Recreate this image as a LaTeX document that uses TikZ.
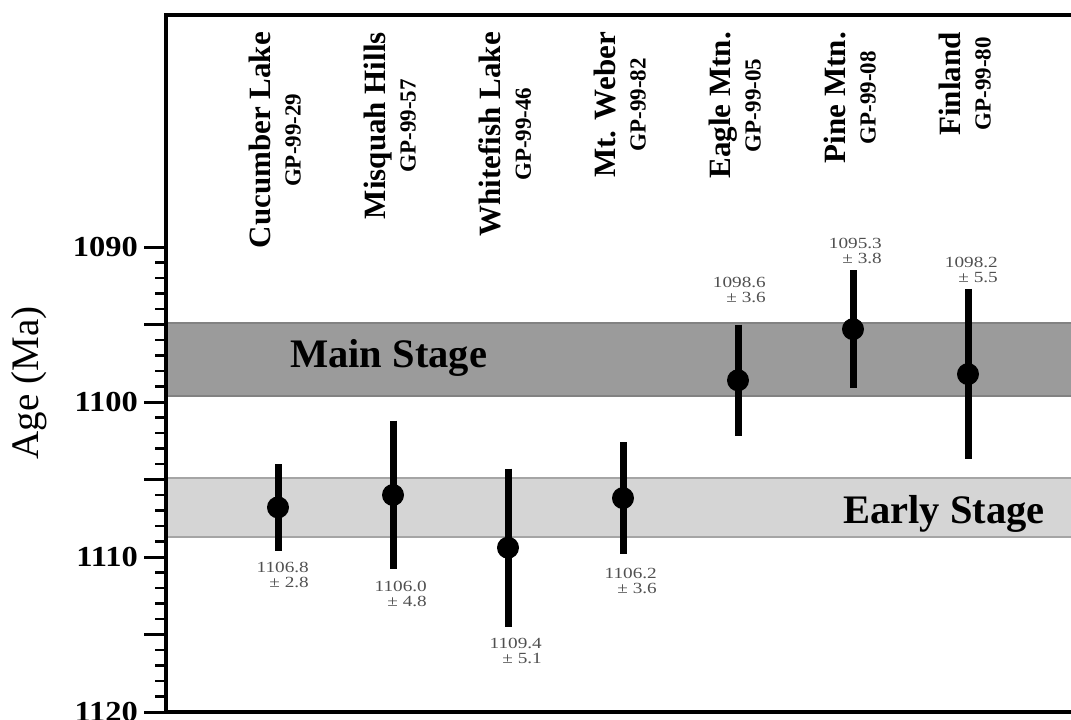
\documentclass[tikz,border=0pt]{standalone}
\usepackage{fontspec}
\usepackage{graphicx}
\setmainfont{Liberation Serif}
\newfontfamily\tickfont[FakeStretch=1.12]{Liberation Serif}
\definecolor{mainband}{HTML}{9B9B9B}
\definecolor{mainedge}{HTML}{828282}
\definecolor{earlyband}{HTML}{D5D5D5}
\definecolor{earlyedge}{HTML}{A5A5A5}
\definecolor{valgray}{HTML}{505050}
\tikzset{
  frameline/.style={line width=3.5pt, black},
  majortick/.style={line width=3pt, black},
  minortick/.style={line width=2.5pt, black},
  errbar/.style={line width=7pt, black},
  dot/.style={circle, fill=black, minimum size=22pt, inner sep=0pt},
  ticklab/.style={anchor=east, inner sep=0pt, font=\tickfont\bfseries\fontsize{29}{29}\selectfont},
  stagelab/.style={anchor=base west, inner sep=0pt, font=\bfseries\fontsize{40.5}{40.5}\selectfont},
  sitelab/.style={rotate=90, anchor=east, inner sep=0pt, align=center, font=\bfseries\fontsize{31}{30}\selectfont},
  vallab/.style={anchor=north east, inner sep=0pt, text=valgray, font=\fontsize{15.5}{16}\selectfont},
}
\newcommand{\gp}[1]{{\fontsize{23}{30}\selectfont #1}}
\newcommand{\vlab}[2]{\scalebox{1.24}[1]{\renewcommand{\arraystretch}{1}\begin{tabular}{@{}r@{}}#1\\[-0.5pt]± #2\end{tabular}}}
\begin{document}
\begin{tikzpicture}[x=1pt,y=-1pt]
\useasboundingbox (0,0) rectangle (1071,720);
% bands
\path[fill=mainband] (166,322.7) rectangle (1071,395.7);
\draw[mainedge, line width=1.8pt] (166,322.7) -- (1071,322.7) (166,395.7) -- (1071,395.7);
\path[fill=earlyband] (166,478.3) rectangle (1071,537.3);
\draw[earlyedge, line width=1.8pt] (166,478.3) -- (1071,478.3) (166,537.3) -- (1071,537.3);
\node[stagelab] (mainlab) at (290,367) {Main Stage};
\node[stagelab] (earlylab) at (843,523) {Early Stage};
% frame
\draw[frameline] (1071,15) -- (166,15) -- (166,712) -- (1071,712);
% ticks
\foreach \m in {1090,...,1120}{
  \pgfmathsetmacro\yy{247+(\m-1090)*15.5}
  \pgfmathtruncatemacro\r{mod(\m,5)}
  \ifnum\r=0
    \draw[majortick] (144,\yy) -- (166,\yy);
  \else
    \draw[minortick] (155,\yy) -- (166,\yy);
  \fi
}
\foreach \m in {1090,1100,1110,1120}{
  \pgfmathsetmacro\yy{247+(\m-1090)*15.5}
  \node[ticklab] (tl\m) at (138,\yy) {\m};
}
\node[rotate=90, inner sep=0pt, font=\fontsize{39}{39}\selectfont] (ylab) at (29,383) {Age (Ma)};
% site labels
\node[sitelab] (s1) at (275,32) {Cucumber Lake\\\gp{GP-99-29}};
\node[sitelab] (s2) at (390,32) {Misquah Hills\\\gp{GP-99-57}};
\node[sitelab] (s3) at (505,32) {Whitefish Lake\\\gp{GP-99-46}};
\node[sitelab] (s4) at (620,32) {Mt. Weber\\\gp{GP-99-82}};
\node[sitelab] (s5) at (735,32) {Eagle Mtn.\\\gp{GP-99-05}};
\node[sitelab] (s6) at (850,32) {Pine Mtn.\\\gp{GP-99-08}};
\node[sitelab] (s7) at (965,32) {Finland\\\gp{GP-99-80}};
% data
\foreach \i/\x/\v/\e in {1/278/1106.8/2.8, 2/393/1106.0/4.8, 3/508/1109.4/5.1, 4/623/1106.2/3.6, 5/738/1098.6/3.6, 6/853/1095.3/3.8, 7/968/1098.2/5.5}{
  \pgfmathsetmacro\yc{247+(\v-1090)*15.5}
  \pgfmathsetmacro\yt{247+(\v-\e-1090)*15.5}
  \pgfmathsetmacro\yb{247+(\v+\e-1090)*15.5}
  \coordinate (t\i) at (\x,\yt);
  \coordinate (b\i) at (\x,\yb);
  \draw[errbar] (t\i) -- (b\i);
  \node[dot] (p\i) at (\x,\yc) {};
}
% value labels
\node[vallab] (v1) at (309,561) {\vlab{1106.8}{2.8}};
\node[vallab] (v2) at (427,580) {\vlab{1106.0}{4.8}};
\node[vallab] (v3) at (542,637) {\vlab{1109.4}{5.1}};
\node[vallab] (v4) at (657,567) {\vlab{1106.2}{3.6}};
\node[vallab] (v5) at (766,276) {\vlab{1098.6}{3.6}};
\node[vallab] (v6) at (882,237) {\vlab{1095.3}{3.8}};
\node[vallab] (v7) at (998,256) {\vlab{1098.2}{5.5}};
\end{tikzpicture}
\end{document}
